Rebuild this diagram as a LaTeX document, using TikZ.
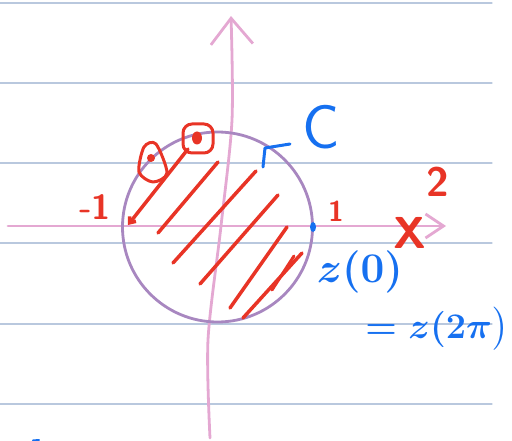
\documentclass[tikz,border=0pt]{standalone}
\usepackage{amsmath, amssymb}
\usetikzlibrary{arrows.meta}
\definecolor{paperline}{RGB}{185,200,222}
\definecolor{axispink}{RGB}{228,168,210}
\definecolor{circlepurple}{RGB}{168,135,192}
\definecolor{inkred}{RGB}{232,52,38}
\definecolor{inkblue}{RGB}{22,112,240}

\begin{document}
\begin{tikzpicture}[x=1pt,y=-1pt,line cap=round,line join=round,
    redink/.style={inkred,line width=3.5pt},
    blueink/.style={inkblue,line width=3pt},
    redlabel/.style={text=inkred,inner sep=0pt,font=\Huge\sffamily\bfseries},
    bluelabel/.style={text=inkblue,inner sep=0pt,font=\Huge\sffamily\boldmath}]
\useasboundingbox (0,0) rectangle (512,441);
\foreach \y in {3,83,163,243,324,404} {
    \draw[paperline,line width=1.3pt] (0,\y) -- (492,\y);
}
\draw[axispink,line width=2.8pt,-{Straight Barb[length=18pt,width=24pt,line width=2.8pt]}] (8,226) -- (446,226);
\draw[axispink,line width=2.8pt,-{Straight Barb[length=26pt,width=42pt,line width=2.8pt]}]
    plot[smooth] coordinates {(210,438) (208,340) (221,226) (232,120) (231,16)};
\draw[circlepurple,line width=2.8pt] (217.5,227) circle[radius=95pt];
\draw[redink,{Straight Barb[length=5pt,width=8pt]}-] (128,225) -- (188,149);
\foreach \ax/\ay/\bx/\by in {158/233/218/162, 173/263/256/171, 200/284/278/195,
    230/308/287/227, 243/318/302/253} {
    \draw[redink] (\ax,\ay) -- (\bx,\by);
}
\draw[redink,line width=3pt] (294,256) -- (272,290);
\fill[inkred] (197,138) ellipse (5pt and 6.5pt);
\draw[redink,line width=3pt,rounded corners=9pt] (183,124) rectangle (213,153);
\draw[redink,line width=3pt] plot[smooth cycle] coordinates {(144,147) (156,144) (167,173) (153,182) (139,172)};
\fill[inkred] (151,158) circle[radius=4pt];
\draw[blueink] (263,167) -- (265,148) -- (290,144);
\fill[inkblue] (313,227) ellipse (3pt and 5pt);
\draw[blueink,line width=2pt] (33,440.5) -- (39,440);
\node[redlabel,scale=1.4] (minusone) at (95,207) {-1};
\node[redlabel,scale=1.15] (one) at (336,211) {1};
\node[redlabel,scale=1.65] (two) at (438,182) {2};
\node[redlabel,scale=1.8] (cross) at (410,233) {X};
\node[bluelabel,scale=2.5] (curve) at (321,127) {C};
\node[bluelabel,scale=1.7] (start) at (360,272) {$z(0)$};
\node[bluelabel,scale=1.45] (finish) at (437,329) {$=z(2\pi\bigr)$};
\end{tikzpicture}
\end{document}
